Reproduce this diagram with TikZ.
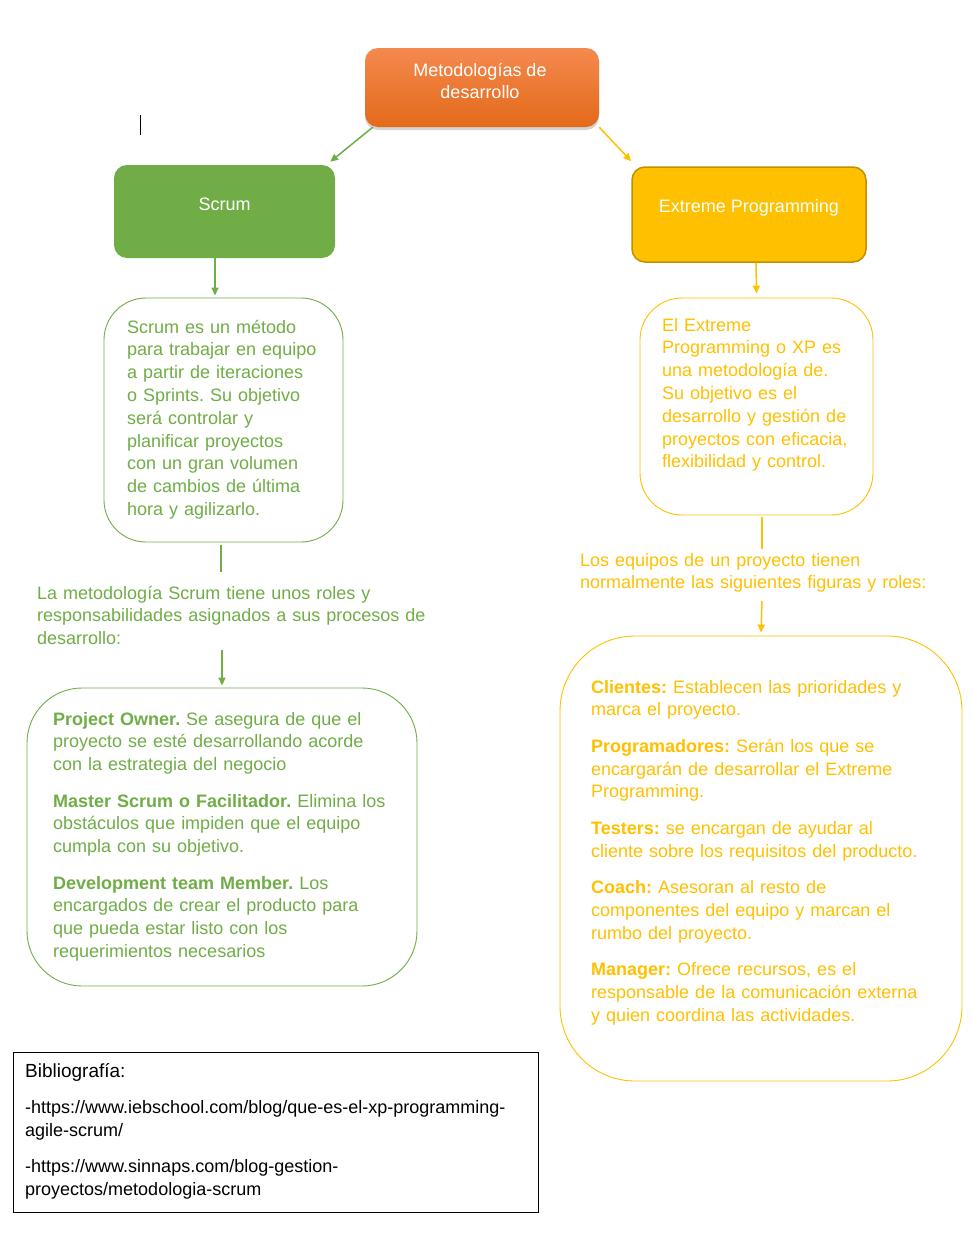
\documentclass[tikz,border=0pt]{standalone}
\usepackage{fontspec}
\setmainfont{Liberation Sans}
\usetikzlibrary{positioning, arrows.meta, shadows}
\definecolor{scrumgreen}{HTML}{70AD47}
\definecolor{xpyellow}{HTML}{FFC000}
\definecolor{xpborder}{HTML}{BF9000}
\definecolor{orangetop}{HTML}{F4894E}
\definecolor{orangebot}{HTML}{E36A1A}
\newcommand{\txtsize}{\fontsize{18}{22.8}\selectfont\frenchspacing}

\begin{document}
\begin{tikzpicture}[x=1pt, y=-1pt,
  head/.style={rounded corners=13pt, inner sep=0},
  headtxt/.style={text=white, font=\txtsize, align=center},
  desc/.style={draw, fill=white, line width=0.9pt, inner sep=0},
  txt/.style={anchor=base west, inner sep=0, font=\txtsize, text width=420pt, align=left},
  garrow/.style={scrumgreen, line width=1.5pt, -{Triangle[length=8pt, width=7pt]}},
  yarrow/.style={xpyellow, line width=1.5pt, -{Triangle[length=8pt, width=7pt]}}]
\useasboundingbox (0,0) rectangle (972,1234);
\draw[black, line width=1pt] (140,115) -- (140,135);
\path
  coordinate (g1) at (221,572)
  coordinate (g2) at (222,650)
  coordinate (y1) at (762,549)
  coordinate (y2) at (762,601)
  ;
\node[head, top color=orangetop, bottom color=orangebot,
  drop shadow={opacity=0.35, shadow xshift=0pt, shadow yshift=-3pt},
  minimum width=234, minimum height=79,
  label={[headtxt, font=\fontsize{18}{22}\selectfont, xshift=-2pt, yshift=7pt]center:Metodologías de\\desarrollo}]
  (met) at (482,87.5) {};
\node[head, fill=scrumgreen, minimum width=221, minimum height=93,
  label={[headtxt, yshift=7pt]center:Scrum}] (scrum) at (224.5,211.5) {};
\node[head, fill=xpyellow, draw=xpborder, line width=1.5pt,
  minimum width=234, minimum height=95,
  label={[headtxt, yshift=7pt]center:Extreme Programming}] (xp) at (749,214.5) {};
\node[desc, draw=scrumgreen, rounded corners=42pt, minimum width=239, minimum height=244]
  (scrumdef) at (223.5,420) {};
\node[desc, draw=xpyellow, rounded corners=42pt, minimum width=233, minimum height=217]
  (xpdef) at (756.5,406.5) {};
\node[desc, draw=scrumgreen, rounded corners=55pt, minimum width=390, minimum height=298]
  (scrumroles) at (222,837) {};
\node[desc, draw=xpyellow, rounded corners=75pt, minimum width=402, minimum height=445]
  (xproles) at (761,858.5) {};
\node[draw=black, line width=0.8pt, inner sep=0, minimum width=525, minimum height=160]
  (bib) at (275.5,1132) {};
\draw[garrow] ([xshift=8pt]met.south west) -- ([shift={(-5,-3)}]scrum.north east);
\draw[yarrow] (met.south east) -- ([yshift=5pt]xp.north west);
\draw[garrow] ([xshift=-9.5pt]scrum.south) -- ([xshift=-8.5pt,yshift=2pt]scrumdef.north);
\draw[yarrow] ([xshift=7pt]xp.south) -- ([yshift=4pt]xpdef.north);
\draw[scrumgreen, line width=1.5pt] ([xshift=-2.5pt,yshift=-3pt]scrumdef.south) -- (g1);
\draw[garrow] (g2) -- ([yshift=2pt]scrumroles.north);
\draw[xpyellow, line width=1.5pt] ([xshift=5.5pt,yshift=-2pt]xpdef.south) -- (y1);
\draw[yarrow] (y2) -- ([yshift=3pt]xproles.north);
\node[txt, text=scrumgreen] (scrumdeftxt) at (127,333) {Scrum es un método\\para trabajar en equipo\\a partir de iteraciones\\o Sprints. Su objetivo\\será controlar y\\planificar proyectos\\con un gran volumen\\de cambios de última\\hora y agilizarlo.};
\node[txt, text=xpyellow] (xpdeftxt) at (662,331) {El Extreme\\Programming o XP es\\una metodología de.\\Su objetivo es el\\desarrollo y gestión de\\proyectos con eficacia,\\flexibilidad y control.};
\node[txt, text=scrumgreen] (scrumtxt) at (37,599) {La metodología Scrum tiene unos roles y\\responsabilidades asignados a sus procesos de\\desarrollo:};
\node[txt, text=xpyellow] (xptxt) at (580,566) {Los equipos de un proyecto tienen\\normalmente las siguientes figuras y roles:};
\node[txt, text=scrumgreen] (scrumrolestxt) at (53,725) {\textbf{Project Owner.} Se asegura de que el\\proyecto se esté desarrollando acorde\\con la estrategia del negocio\\[13.6pt]
\textbf{Master Scrum o Facilitador.} Elimina los\\obstáculos que impiden que el equipo\\cumpla con su objetivo.\\[13.6pt]
\textbf{Development team Member.} Los\\encargados de crear el producto para\\que pueda estar listo con los\\requerimientos necesarios};
\node[txt, text=xpyellow] (xprolestxt) at (591,693) {\textbf{Clientes:} Establecen las prioridades y\\marca el proyecto.\\[13.6pt]
\textbf{Programadores:} Serán los que se\\encargarán de desarrollar el Extreme\\Programming.\\[13.6pt]
\textbf{Testers:} se encargan de ayudar al\\cliente sobre los requisitos del producto.\\[13.6pt]
\textbf{Coach:} Asesoran al resto de\\componentes del equipo y marcan el\\rumbo del proyecto.\\[13.6pt]
\textbf{Manager:} Ofrece recursos, es el\\responsable de la comunicación externa\\y quien coordina las actividades.};
\node[txt, text=black, text width=520pt] (bibtxt) at (25,1077) {{\fontsize{19}{22.8}\selectfont Bibliografía:}\\[13.6pt]
\mbox{-https://www.iebschool.com/blog/que-es-el-xp-programming-}\\\mbox{agile-scrum/}\\[13.6pt]
\mbox{-https://www.sinnaps.com/blog-gestion-}\\\mbox{proyectos/metodologia-scrum}};
\end{tikzpicture}
\end{document}
